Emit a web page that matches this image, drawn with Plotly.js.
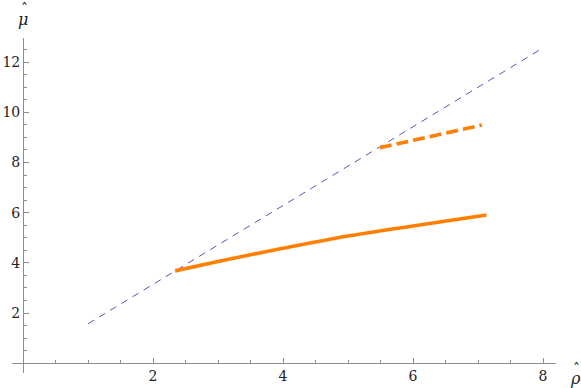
<!DOCTYPE html>
<html>
<head>
<meta charset="utf-8">
<script src="https://cdn.plot.ly/plotly-3.0.1.min.js"></script>
<style>
  html, body { margin: 0; padding: 0; background: #fff; }
  #chart { width: 581px; height: 388px; }
</style>
</head>
<body>
<div id="chart"></div>
<script>
// reference line mu = (pi/2) rho
var rhoRef = [1.0, 8.0];
var muRef = [1.571, 12.566];

// solid branch
var rhoSolid = [2.34, 3.0, 3.5, 4.0, 5.0, 6.0, 7.13];
var muSolid = [3.68, 4.05, 4.32, 4.58, 5.07, 5.47, 5.91];

// dashed branch
var rhoDashed = [5.49, 7.06];
var muDashed = [8.59, 9.49];

var xTicks = [2, 4, 6, 8];
var yTicks = [2, 4, 6, 8, 10, 12];

var xRange = [-0.17, 8.2];
var yRange = [-0.39, 12.96];

var axisColor = '#8c8c8c';
var serif = 'DejaVu Serif';
var tickFont = {family: serif, size: 14, color: '#222'};

var traces = [
    {x: rhoRef, y: muRef, mode: 'lines', type: 'scatter',
     line: {color: '#5b52b6', width: 1, dash: '7px,6px'}},
    {x: rhoSolid, y: muSolid, mode: 'lines', type: 'scatter',
     line: {color: '#ff8000', width: 3.6, shape: 'spline', smoothing: 0.8}},
    {x: rhoDashed, y: muDashed, mode: 'lines', type: 'scatter',
     line: {color: '#ff8000', width: 3.6, dash: '12px,5px'}}
];

var x0 = (0 - xRange[0]) / (xRange[1] - xRange[0]);
var y0 = (0 - yRange[0]) / (yRange[1] - yRange[0]);

function label(x, y, txt, size) {
    return {xref: 'paper', yref: 'paper', x: x, y: y, xanchor: 'center', yanchor: 'middle',
            showarrow: false, text: txt, font: {family: serif, size: size, color: '#222'}};
}

var layout = {
    width: 581,
    height: 388,
    margin: {l: 12, r: 25, t: 38, b: 15},
    showlegend: false,
    paper_bgcolor: '#fff',
    plot_bgcolor: '#fff',
    font: tickFont,
    xaxis: {
        range: xRange,
        anchor: 'free',
        position: y0,
        showgrid: false,
        zeroline: false,
        showline: true,
        linecolor: axisColor,
        linewidth: 1,
        tickvals: xTicks,
        tickfont: tickFont,
        ticks: 'inside',
        ticklen: 5,
        tickcolor: axisColor,
        minor: {dtick: 0.5, tick0: 0, ticks: 'inside', ticklen: 3, tickcolor: axisColor, showgrid: false}
    },
    yaxis: {
        range: yRange,
        anchor: 'free',
        position: x0,
        showgrid: false,
        zeroline: false,
        showline: true,
        linecolor: axisColor,
        linewidth: 1,
        tickvals: yTicks,
        tickfont: tickFont,
        ticks: 'inside',
        ticklen: 5,
        tickcolor: axisColor,
        minor: {dtick: 0.5, tick0: 0, ticks: 'inside', ticklen: 3, tickcolor: axisColor, showgrid: false}
    },
    annotations: [
        // rho hat, right of x axis
        label(1.035, -0.017, '<i>\u03C1</i>', 16),
        label(1.037, 0.013, '\u02C6', 14),
        // mu hat, above y axis
        label(x0, 1.055, '<i>\u03BC</i>', 16),
        label(x0 + 0.003, 1.087, '\u02C6', 14)
    ]
};

Plotly.newPlot('chart', traces, layout, {displayModeBar: false, staticPlot: true});
</script>
</body>
</html>
